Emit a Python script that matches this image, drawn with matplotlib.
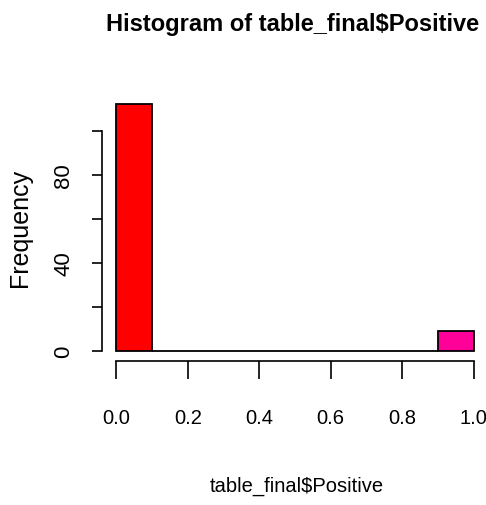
import numpy as np
import matplotlib
matplotlib.use("Agg")
import matplotlib.pyplot as plt

# histogram of table_final$Positive, 10 bins of width 0.1
bin_edges = [0.0, 0.1, 0.2, 0.3, 0.4, 0.5, 0.6, 0.7, 0.8, 0.9, 1.0]
counts = [112, 0, 0, 0, 0, 0, 0, 0, 0, 9]
bar_colors = ["#FF0000", "#FF9900", "#CCFF00", "#33FF00", "#00FF66",
              "#00FFFF", "#0066FF", "#3300FF", "#CC00FF", "#FF0099"]
x_ticks = [0.0, 0.2, 0.4, 0.6, 0.8, 1.0]
x_ticklabels = ["0.0", "0.2", "0.4", "0.6", "0.8", "1.0"]
y_ticks = [0, 20, 40, 60, 80, 100]
y_ticklabels = ["0", "", "40", "", "80", ""]

fam = ["Liberation Sans", "DejaVu Sans"]

fig = plt.figure(figsize=(4.86, 5.06), dpi=100)
ax = fig.add_axes([0.2099, 0.2852, 0.794, 0.5263])

lefts = np.array(bin_edges[:-1])
widths = np.diff(bin_edges)
ax.bar(lefts, counts, width=widths, align="edge", color=bar_colors,
       edgecolor="black", linewidth=1.3)

ax.set_xlim(-0.04, 1.04)
ax.set_ylim(-0.04 * max(counts), 1.04 * max(counts))

for s in ["top", "right"]:
    ax.spines[s].set_visible(False)
ax.spines["left"].set_bounds(0, 100)
ax.spines["bottom"].set_bounds(0, 1)
ax.spines["left"].set_linewidth(1.2)
ax.spines["bottom"].set_linewidth(1.2)

ax.set_xticks(x_ticks)
ax.set_xticklabels(x_ticklabels, family=fam, fontsize=14.5)
ax.set_yticks(y_ticks)
ax.set_yticklabels(y_ticklabels, family=fam, fontsize=16, rotation=90,
                   va="center")
ax.tick_params(axis="x", length=13, width=1.2, pad=21)
ax.tick_params(axis="y", length=7, width=1.2, pad=13)

ax.set_xlabel("table_final$Positive", family=fam, fontsize=14.5, va="center")
ax.xaxis.set_label_coords((296.7 - 102) / 386, -(486 - 361.7) / 266.3)
ax.set_ylabel("Frequency", family=fam, fontsize=18, va="center")
ax.yaxis.set_label_coords(-(102 - 20) / 386, (361.7 - 227.5) / 266.3)
fig.text(293 / 486, 1 - 25 / 506, "Histogram of table_final$Positive",
         family=fam, fontsize=17, fontweight="bold", ha="center", va="center")

fig.savefig("out.png", dpi=100)
